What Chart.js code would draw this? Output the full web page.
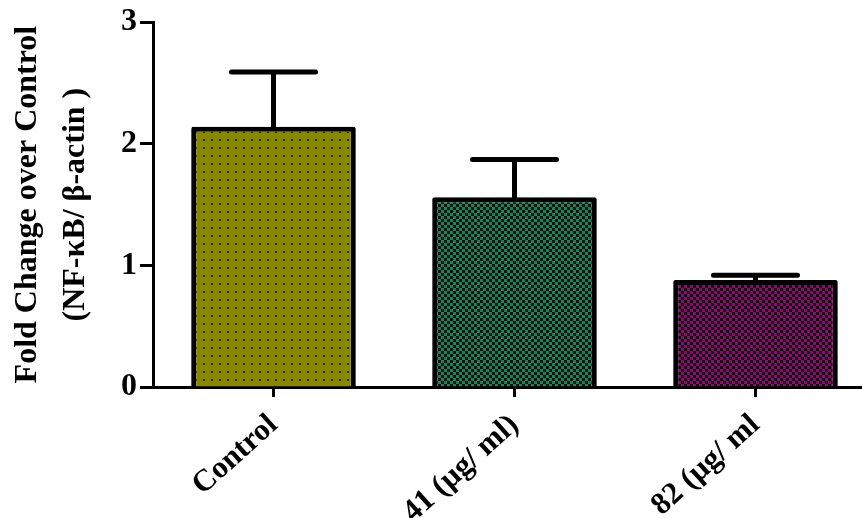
<!DOCTYPE html>
<html>
<head>
<meta charset="utf-8">
<script src="https://cdn.jsdelivr.net/npm/chart.js@4"></script>
<style>
  html, body { margin: 0; padding: 0; background: #fff; overflow: hidden; }
  #wrap { width: 880px; height: 518px; }
</style>
</head>
<body>
<div id="wrap"><canvas id="chart" width="880" height="518"></canvas></div>
<script>
// Groups and measured fold change (mean and upper SEM)
const categories = ['Control', '41 (\u00b5g/ ml)', '82 (\u00b5g/ ml'];
const foldChange = [2.14, 1.56, 0.88];
const foldError = [0.45, 0.31, 0.04];
const yTicks = [0, 1, 2, 3];

const SERIF = '"Liberation Serif", "Times New Roman", serif';

// Fill textures for the three bars
function dotPattern(bg, dot) {
  const c = document.createElement('canvas');
  c.width = 8; c.height = 8;
  const g = c.getContext('2d');
  g.fillStyle = bg; g.fillRect(0, 0, 8, 8);
  g.fillStyle = dot; g.fillRect(3, 3, 2, 2);
  return g.createPattern(c, 'repeat');
}
function checkerPattern(a, b, s) {
  const c = document.createElement('canvas');
  c.width = 2 * s; c.height = 2 * s;
  const g = c.getContext('2d');
  g.fillStyle = a; g.fillRect(0, 0, 2 * s, 2 * s);
  g.fillStyle = b;
  g.fillRect(0, 0, s, s);
  g.fillRect(s, s, s, s);
  return g.createPattern(c, 'repeat');
}
const fills = [
  dotPattern('#878700', '#2e2e00'),
  checkerPattern('#20805a', '#06170f', 3),
  checkerPattern('#82106a', '#1c0016', 3)
];

// Upper error bars with caps, drawn over the bars
const errorBars = {
  id: 'errorBars',
  afterDatasetsDraw(chart) {
    const ctx = chart.ctx;
    const y = chart.scales.y;
    const meta = chart.getDatasetMeta(0);
    ctx.save();
    ctx.strokeStyle = '#000';
    ctx.lineWidth = 5;
    ctx.lineCap = 'round';
    meta.data.forEach((bar, i) => {
      const x = bar.x;
      const yMean = y.getPixelForValue(foldChange[i]);
      const yTop = y.getPixelForValue(foldChange[i] + foldError[i]);
      const half = 42;
      ctx.beginPath();
      ctx.moveTo(x, yMean);
      ctx.lineTo(x, yTop);
      ctx.moveTo(x - half, yTop);
      ctx.lineTo(x + half, yTop);
      ctx.stroke();
    });
    ctx.restore();
  }
};

new Chart(document.getElementById('chart'), {
  type: 'bar',
  data: {
    labels: categories,
    datasets: [{
      data: foldChange,
      backgroundColor: fills,
      borderColor: '#000',
      borderWidth: 5,
      borderSkipped: 'start',
      borderRadius: 2,
      barPercentage: 0.683,
      categoryPercentage: 1.0
    }]
  },
  options: {
    responsive: false,
    animation: false,
    layout: { padding: { top: 22, right: 4, left: 0, bottom: 0 } },
    plugins: { legend: { display: false }, tooltip: { enabled: false } },
    scales: {
      x: {
        offset: true,
        grid: { display: true, offset: false, drawOnChartArea: false, drawTicks: true, tickLength: 10, tickWidth: 3, tickColor: '#000' },
        border: { display: true, color: '#000', width: 3 },
        ticks: {
          color: '#000',
          font: { family: SERIF, size: 31, weight: 'bold' },
          minRotation: 42, maxRotation: 42,
          padding: 10
        },
        afterFit(scale) { scale.height = 131; }
      },
      y: {
        min: 0, max: 3,
        afterBuildTicks(scale) { scale.ticks = yTicks.map(v => ({ value: v })); },
        grid: { display: true, drawOnChartArea: false, drawTicks: true, tickLength: 13, tickWidth: 3, tickColor: '#000' },
        border: { display: true, color: '#000', width: 3 },
        ticks: {
          color: '#000',
          font: { family: SERIF, size: 32, weight: 'bold' },
          padding: 3
        },
        title: {
          display: true,
          text: ['Fold Change over Control', '(NF-\u03baB/ \u03b2-actin )'],
          color: '#000',
          font: { family: SERIF, size: 32, weight: 'bold', lineHeight: 1.5 },
          padding: { top: 4, bottom: 0 }
        },
        afterFit(scale) { scale.width = 153; }
      }
    }
  },
  plugins: [errorBars]
});
</script>
</body>
</html>
